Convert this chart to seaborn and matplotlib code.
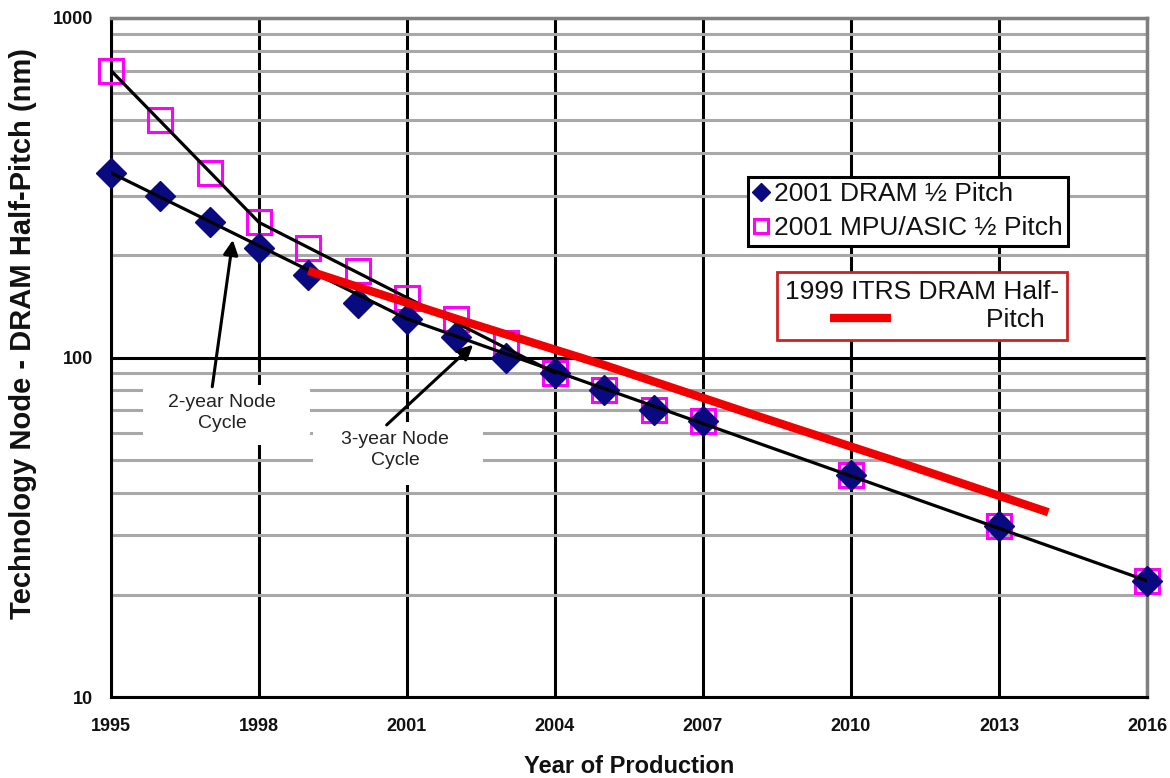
import matplotlib
matplotlib.use("Agg")
import matplotlib.pyplot as plt
import seaborn as sns
import numpy as np
import pandas as pd
from matplotlib.patches import Rectangle
from matplotlib.ticker import LogLocator, NullFormatter, FixedLocator

# ---------------- data ----------------
years = [1995, 1996, 1997, 1998, 1999, 2000, 2001, 2002, 2003, 2004, 2005, 2006, 2007, 2010, 2013, 2016]
dram_2001 = [350, 300, 250, 210, 175, 145, 130, 115, 100, 90, 80, 70, 65, 45, 32, 22]
mpu_2001 = [700, 500, 350, 250, 210, 180, 150, 130, 110, 90, 80, 70, 65, 45, 32, 22]

itrs1999_years = [1999, 2002, 2005, 2008, 2011, 2014]
itrs1999_dram = [180, 130, 95, 68, 49, 35]

dram_trend_years = [1995, 2001, 2016]
dram_trend = [350, 130, 22]
mpu_trend_years = [1995, 1998, 2004]
mpu_trend = [700, 250, 90]

xticks = [1995, 1998, 2001, 2004, 2007, 2010, 2013, 2016]
xtick_labels = [str(y) for y in xticks]
yticks = [10, 100, 1000]
ytick_labels = ["10", "100", "1000"]

label_dram = "2001 DRAM ½ Pitch"
label_mpu = "2001 MPU/ASIC ½ Pitch"
label_itrs_title = "1999 ITRS DRAM Half-"
label_itrs = "Pitch"

# ---------------- style ----------------
sns.set_theme(style="white")
plt.rcParams["font.family"] = ["Liberation Sans", "DejaVu Sans"]

NAVY = "#0a0a80"
MAGENTA = "#ff00ff"
RED = "#f00000"

W, H = 1170, 778
fig = plt.figure(figsize=(W / 100, H / 100), dpi=100)
L, R, T, B = 111, 1147, 18, 697
ax = fig.add_axes([L / W, 1 - B / H, (R - L) / W, (B - T) / H])

ax.set_yscale("log")
ax.set_xlim(1995, 2016)
ax.set_ylim(10, 1000)

# grid
ax.set_axisbelow(True)
ax.yaxis.set_minor_locator(LogLocator(base=10, subs=np.arange(2, 10)))
ax.yaxis.set_minor_formatter(NullFormatter())
ax.grid(which="minor", axis="y", color="#a8a8a8", lw=2.2)
ax.grid(which="major", axis="both", color="black", lw=2.2)

# white label boxes that hide the grid
ax.add_patch(Rectangle((0.031, 0.371), 0.161, 0.088, transform=ax.transAxes,
                       facecolor="white", edgecolor="none", zorder=1.5))
ax.add_patch(Rectangle((0.195, 0.312), 0.164, 0.093, transform=ax.transAxes,
                       facecolor="white", edgecolor="none", zorder=1.5))

# markers
sns.lineplot(x=years, y=mpu_2001, ax=ax, marker="s", markersize=17, linestyle="",
             markerfacecolor="none", markeredgecolor=MAGENTA, markeredgewidth=2.2,
             color=MAGENTA, label=label_mpu, legend=False, zorder=3, clip_on=False)
sns.lineplot(x=years, y=dram_2001, ax=ax, marker="D", markersize=15, linestyle="",
             markerfacecolor=NAVY, markeredgecolor=NAVY, markeredgewidth=1,
             color=NAVY, label=label_dram, legend=False, zorder=3.5, clip_on=False)

# trend lines
sns.lineplot(x=dram_trend_years, y=dram_trend, ax=ax, color="black", lw=2.3,
             legend=False, zorder=4)
sns.lineplot(x=mpu_trend_years, y=mpu_trend, ax=ax, color="black", lw=2.3,
             legend=False, zorder=4)
sns.lineplot(x=itrs1999_years, y=itrs1999_dram, ax=ax, color=RED, lw=6,
             solid_capstyle="butt", label=label_itrs, legend=False, zorder=5)

# ticks
ax.xaxis.set_major_locator(FixedLocator(xticks))
ax.set_xticks(xticks)
ax.set_xticklabels(xtick_labels)
ax.set_yticks(yticks)
ax.set_yticklabels(ytick_labels)
ax.tick_params(axis="both", which="major", length=6, width=2, direction="out",
               labelsize=13, color="black")
ax.tick_params(axis="x", pad=9)
ax.tick_params(axis="y", pad=7)
ax.tick_params(which="minor", length=0)
for lbl in ax.get_xticklabels() + ax.get_yticklabels():
    lbl.set_fontweight("bold")
    lbl.set_color("#111111")

# spines
for side in ["left", "bottom"]:
    ax.spines[side].set_color("black")
    ax.spines[side].set_linewidth(2.2)
for side in ["top", "right"]:
    ax.spines[side].set_color("#808080")
    ax.spines[side].set_linewidth(2.5)
for s in ax.spines.values():
    s.set_zorder(2.6)

# axis labels
ax.set_xlabel("Year of Production", fontsize=17, fontweight="bold", color="#111111")
ax.xaxis.set_label_coords(0.5, -0.085)
ax.xaxis.label.set_va("top")
ax.set_ylabel("Technology Node - DRAM Half-Pitch (nm)", fontsize=21, fontweight="bold",
              color="#111111")
ax.yaxis.set_label_coords(-0.071, 0.536)

# annotations
arrow_kw = dict(arrowstyle="-|>", color="black", lw=2.2, mutation_scale=22)
ax.annotate("2-year Node\nCycle", xy=(1997.47, 222), xytext=(1997.25, 68.6),
            ha="center", va="center", fontsize=14, color="#222222", zorder=6,
            linespacing=1.3,
            arrowprops=dict(**arrow_kw, relpos=(0.4, 1.0), shrinkA=3, shrinkB=0))
ax.annotate("3-year Node\nCycle", xy=(2002.34, 109), xytext=(2000.76, 53.4),
            ha="center", va="center", fontsize=14, color="#222222", zorder=6,
            linespacing=1.3,
            arrowprops=dict(**arrow_kw, relpos=(0.36, 1.0), shrinkA=3, shrinkB=0))

# legends
handles, labels = ax.get_legend_handles_labels()
hmap = dict(zip(labels, handles))
leg1 = ax.legend(handles=[hmap[label_dram], hmap[label_mpu]], labels=[label_dram, label_mpu],
                 loc="upper left", bbox_to_anchor=((748 - L) / (R - L), 1 - (177 - T) / (B - T)),
                 borderaxespad=0, fontsize=19, frameon=True, fancybox=False, framealpha=1,
                 edgecolor="black", borderpad=0.2, handlelength=0.55, handletextpad=0.25,
                 labelspacing=0.38, markerscale=0.62)
leg1.get_frame().set_linewidth(2.2)
for t in leg1.get_texts():
    t.set_color("#111111")
ax.add_artist(leg1)

leg2 = ax.legend(handles=[hmap[label_itrs]], labels=[label_itrs + "  "], title=label_itrs_title,
                 title_fontsize=19, fontsize=19, alignment="right",
                 loc="upper left", bbox_to_anchor=((777 - L) / (R - L), 1 - (272 - T) / (B - T)),
                 borderaxespad=0, frameon=True, fancybox=False, framealpha=1,
                 edgecolor="#cc2222", borderpad=0.3, labelspacing=0.15,
                 handlelength=2.3, handletextpad=3.6)
leg2.get_frame().set_linewidth(2)
leg2.get_title().set_color("#111111")
for t in leg2.get_texts():
    t.set_color("#111111")
leg2.set_zorder(7)
leg1.set_zorder(7)

fig.savefig("out.png", dpi=100)
